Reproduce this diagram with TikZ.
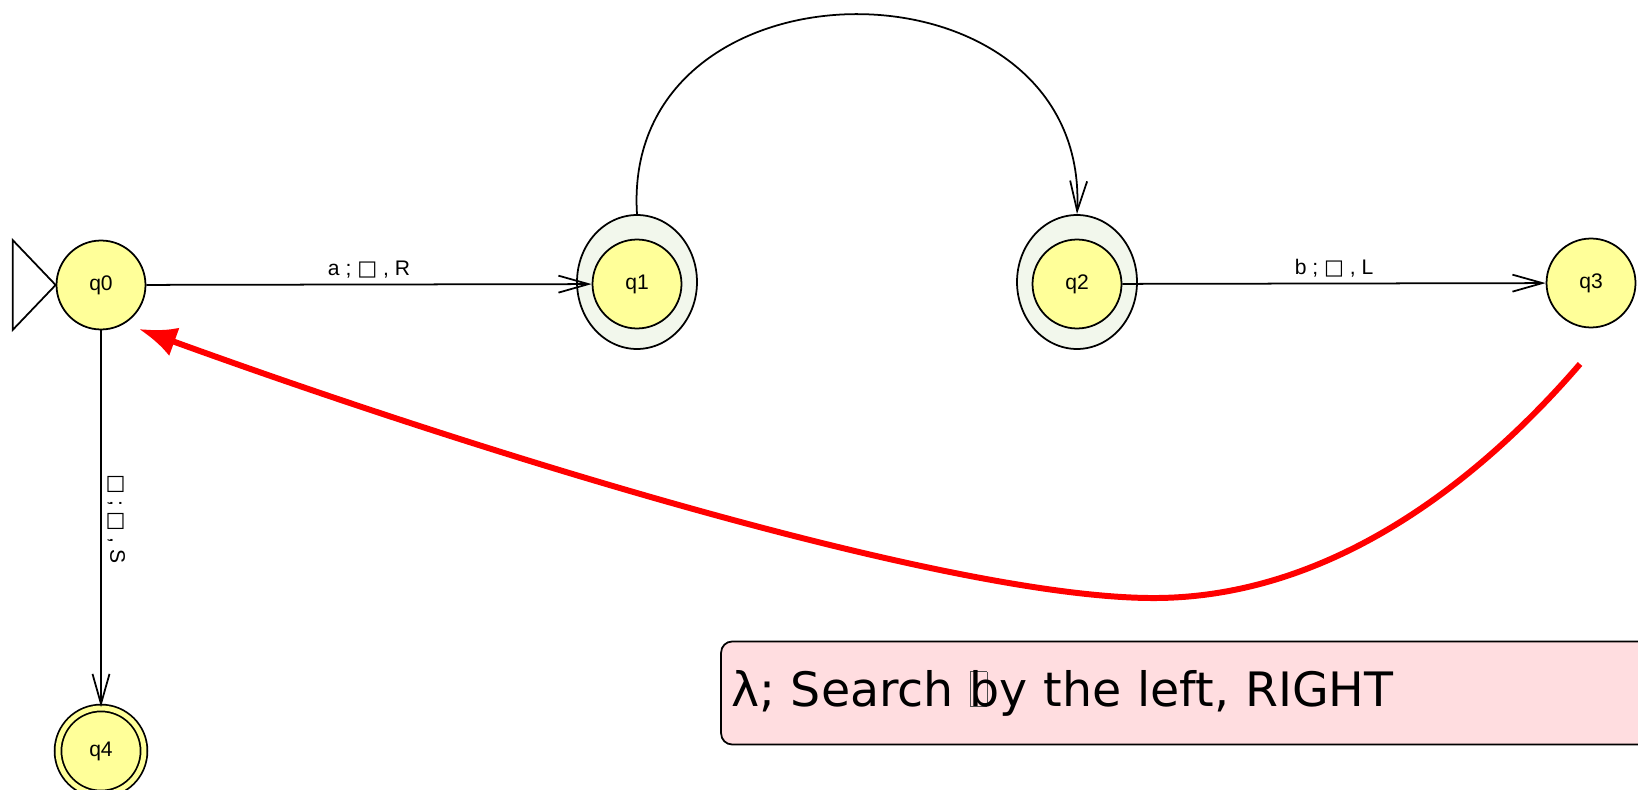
\documentclass[tikz,border=0pt]{standalone}
\usepackage{fontspec}
\setmainfont{Liberation Sans}
\newfontfamily\dejavu{DejaVu Sans}
\usepackage{xcolor}
\definecolor{jaune}{HTML}{FFFF99}
\definecolor{vertpale}{HTML}{F2F7EC}
\definecolor{rosepale}{HTML}{FFDDE0}
\definecolor{rouge}{HTML}{FF0000}
\usetikzlibrary{positioning,arrows.meta,shapes.geometric}
\newcommand{\vide}{{\dejavu □}}
\newcommand{\manque}{\makebox[0pt][l]{\color{black!70}\fboxsep=0pt\fboxrule=0.4pt\fbox{\rule{0pt}{0.72em}\hspace{0.34em}}}}

\begin{document}
\begin{tikzpicture}[x=0.02cm,y=-0.02cm,
  font=\fontsize{12}{14}\selectfont,
  etat/.style={circle,draw,line width=1pt,fill=jaune,minimum size=1.78cm,inner sep=0pt},
  actif/.style={ellipse,draw,line width=1pt,fill=vertpale,minimum width=2.4cm,minimum height=2.68cm,inner sep=0pt},
  trans/.style={-{Straight Barb[length=6mm,width=3.4mm]},line width=1pt},
  retour/.style={-{Latex[length=7.5mm,width=6mm]},rouge,line width=3.4pt}
]
\useasboundingbox (0,0) rectangle (1638,790);
% ---- états ----
\node[actif] (q1h) at (637,282) {};
\node[actif] (q2h) at (1077,282) {};
\node[etat] (q0) at (101,285) {q0};
\node[etat] (q1) at (637,284) {q1};
\node[etat] (q2) at (1077,284) {q2};
\node[etat] (q3) at (1591,283) {q3};
\node[etat,double=jaune,double distance=0.1cm,minimum size=1.72cm] (q4) at (101,751) {q4};
% ---- état initial ----
\draw[line width=1pt] (q0.west) -- ++(-43,-45) -- ++(0,90) -- cycle;
% ---- transitions ----
\draw[trans] (q0) -- node[above]{a ; \vide{} , R} (q1);
\draw[trans] (q2) -- node[above]{b ; \vide{} , L} (q3);
\draw[trans] (q0) -- node[sloped,above]{\vide{} ; \vide{} , S} (q4);
\draw[trans] (q1h.north) .. controls +(-17,-266) and +(13,-266) .. (q2h.north);
% ---- retour rouge ----
\coordinate (depart) at (1580,364);
\coordinate (arrivee) at (139,329);
\draw[retour] (depart) .. controls (1480,480) and (1330,600) .. (1149,598)
  .. controls (950,596) and (500,460) .. (arrivee);
% ---- note ----
\node[draw,line width=1pt,rounded corners=0.22cm,fill=rosepale,minimum width=18.6cm,
  minimum height=2.06cm,text width=18.2cm,align=left,
  font=\dejavu\fontsize{27}{32}\selectfont] (note) at (1186,693) {λ; Search \manque by the left, RIGHT};
\end{tikzpicture}
\end{document}
